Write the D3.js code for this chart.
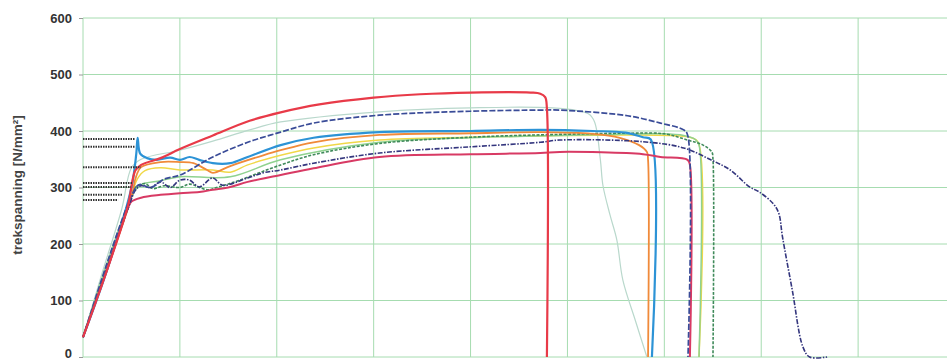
<!DOCTYPE html>
<html>
<head>
<meta charset="utf-8">
<script src="https://cdn.jsdelivr.net/npm/d3@7"></script>
<style>
  html, body { margin: 0; padding: 0; background: #fff; }
  svg { display: block; }
</style>
</head>
<body>
<div id="chart"></div>
<script>
// stress-strain curves, [strain, stress N/mm²]
const curveRed = [[0,35],[1.2,150],[2.3,265],[2.7,330],[3.0,340],[4.0,352],[5.0,368],[6.7,392],[8.6,418],[10.2,433],[12.2,447],[15.0,459],[17.4,465],[20.0,468],[23.1,468],[23.6,466],[23.85,460],[23.94,440],[23.94,0]];
const curvePale = [[0,35],[1.0,150],[2.0,262],[2.5,335],[3.0,350],[5.0,366],[6.7,382],[8.6,402],[10.2,416],[15.3,434],[20.0,441],[24.6,440],[26.1,430],[26.4,416],[26.7,349],[26.83,304],[27.2,251],[27.55,207],[27.86,136],[28.5,65],[29.1,0]];
const curveDarkBlue = [[0,35],[2.5,285],[2.9,305],[3.5,300],[4.2,315],[5.0,322],[6.7,354],[8.5,380],[10.2,398],[11.9,414],[15.3,428],[20.0,435],[23.6,437],[24.6,437],[28.1,427],[29.8,414],[31.0,402],[31.2,393],[31.22,0]];
const curveBlue = [[0,35],[1.3,160],[2.5,300],[2.75,360],[2.82,388],[2.95,360],[3.3,352],[3.8,349],[4.5,353],[5.0,349],[5.5,354],[6.0,349],[6.7,343],[7.6,343],[8.5,354],[10.2,375],[11.9,388],[15.3,398],[20.0,400],[23.6,402],[26.3,400],[28.0,397],[28.9,389],[29.3,385],[29.36,0]];
const curveOrange = [[0,35],[2.55,290],[2.7,315],[3.0,336],[4.0,345],[5.0,345],[5.7,343],[6.4,331],[6.7,326],[7.6,338],[9.3,357],[10.2,366],[11.9,380],[15.3,393],[20.0,396],[23.6,398],[26.3,395],[27.7,388],[28.7,375],[29.1,363],[29.16,349],[29.16,0]];
const curveYellow = [[0,35],[2.5,285],[2.8,315],[3.2,330],[4.0,335],[5.0,331],[6.7,331],[7.6,327],[8.5,340],[10.2,357],[11.9,370],[15.3,384],[20.0,389],[24.6,392],[28.0,393],[30.3,392],[31.4,388],[31.75,380],[31.79,0]];
const curveLightGreen = [[0,35],[2.6,290],[3.0,305],[4.0,312],[5.0,319],[7.6,319],[10.2,349],[15.3,380],[20.0,388],[24.6,392],[29.8,395],[31.0,392],[31.6,385],[31.79,375],[31.79,0]];
const curveDarkGreen = [[0,35],[2.5,280],[2.7,300],[3.2,307],[3.6,298],[4.2,303],[5.0,300],[5.5,306],[6.4,296],[7.0,301],[8.0,312],[10.2,340],[11.9,358],[15.3,378],[20.0,389],[24.6,394],[28.0,396],[30.0,395],[31.2,384],[32.0,375],[32.45,363],[32.51,350],[32.51,0]];
const curveNavy = [[0,35],[2.4,270],[2.7,295],[3.0,303],[3.5,300],[4.0,310],[4.5,300],[5.0,313],[5.5,313],[6.0,301],[6.7,317],[7.2,304],[8.5,317],[9.3,326],[10.2,331],[11.9,343],[15.3,361],[20.0,372],[23.6,380],[24.6,384],[28.9,381],[31.0,370],[32.4,349],[33.4,331],[34.4,301],[34.9,292],[35.6,272],[35.9,255],[36.1,212],[36.6,119],[37.15,18],[37.5,0],[38.4,0]];
const curveCrimson = [[0,35],[1.2,150],[2.3,262],[2.5,275],[3.0,282],[4.0,287],[5.0,290],[6.0,292],[6.7,296],[7.6,301],[8.5,310],[10.2,322],[11.9,334],[15.3,354],[20.0,359],[23.6,361],[24.6,363],[28.9,359],[29.8,354],[31.2,349],[31.32,340],[31.32,0]];

// yield markers (dotted)
const yieldValues = [386, 372, 336, 308, 301, 287, 278];
const yieldEnds = [2.68, 2.68, 2.99, 2.58, 2.48, 2.06, 1.81];

const yTicks = [0, 100, 200, 300, 400, 500, 600];
const xGrid = [0, 5, 10, 15, 20, 25, 30, 35, 40, 45];

const series = [
  { key: 'pale', points: curvePale },
  { key: 'yellow', points: curveYellow },
  { key: 'lightGreen', points: curveLightGreen },
  { key: 'darkGreen', points: curveDarkGreen },
  { key: 'orange', points: curveOrange },
  { key: 'blue', points: curveBlue },
  { key: 'crimson', points: curveCrimson },
  { key: 'navy', points: curveNavy },
  { key: 'darkBlue', points: curveDarkBlue },
  { key: 'red', points: curveRed }
];

// line styles
const styles = {
  pale:       { color: '#b9d8cc', width: 1.2, dash: null },
  lightGreen: { color: '#8fd28f', width: 1.5, dash: null },
  yellow:     { color: '#f0d848', width: 1.5, dash: null },
  darkGreen:  { color: '#3f8a5a', width: 1.6, dash: '3,1.5' },
  orange:     { color: '#f08a3a', width: 1.8, dash: null },
  blue:       { color: '#2c93d6', width: 2.2, dash: null },
  crimson:    { color: '#d83a64', width: 2.0, dash: null },
  navy:       { color: '#34367e', width: 1.6, dash: '5,1.5,1.5,1.5' },
  darkBlue:   { color: '#3a4c98', width: 1.7, dash: '6,2' },
  red:        { color: '#e83a48', width: 2.2, dash: null }
};

const width = 947, height = 359;

const svg = d3.select('#chart')
  .append('svg')
  .attr('width', width)
  .attr('height', height);

const x = d3.scaleLinear().domain([0, 45]).range([83, 955]);
const y = d3.scaleLinear().domain([0, 600]).range([357, 18]);

// grid
const grid = svg.append('g').attr('class', 'grid');
grid.selectAll('.hgrid')
  .data(yTicks)
  .enter()
  .append('line')
  .attr('x1', x(0)).attr('x2', width)
  .attr('y1', d => y(d)).attr('y2', d => y(d))
  .style('stroke', '#a6dcb0')
  .style('stroke-width', 1);

grid.selectAll('.vgrid')
  .data(xGrid)
  .enter()
  .append('line')
  .attr('x1', d => x(d)).attr('x2', d => x(d))
  .attr('y1', y(600)).attr('y2', y(0))
  .style('stroke', '#a6dcb0')
  .style('stroke-width', 1);

// y axis
const yAxis = svg.append('g')
  .attr('transform', `translate(${x(0)},0)`)
  .call(d3.axisLeft(y).tickValues(yTicks).tickSize(4).tickPadding(7));
yAxis.select('.domain').remove();
yAxis.selectAll('line').style('stroke', '#999');
yAxis.selectAll('text')
  .style('font-family', 'Liberation Sans, Arial, sans-serif')
  .style('font-size', '13px')
  .style('font-weight', 'bold')
  .style('fill', '#333');
// keep the bottom label inside the picture
yAxis.selectAll('text')
  .filter(d => d === 0)
  .attr('dy', '0em');

// y axis title
svg.append('text')
  .attr('transform', 'rotate(-90)')
  .attr('x', -185)
  .attr('y', 22)
  .attr('text-anchor', 'middle')
  .style('font-family', 'Liberation Sans, Arial, sans-serif')
  .style('font-size', '13.5px')
  .style('font-weight', 'bold')
  .style('fill', '#444')
  .text('trekspanning [N/mm²]');

// curves
const line = d3.line()
  .x(d => x(d[0]))
  .y(d => y(d[1]))
  .curve(d3.curveCatmullRom.alpha(0.5));

svg.append('g')
  .selectAll('path')
  .data(series)
  .enter()
  .append('path')
  .attr('d', d => line(d.points))
  .attr('fill', 'none')
  .attr('stroke', d => styles[d.key].color)
  .attr('stroke-width', d => styles[d.key].width)
  .attr('stroke-dasharray', d => styles[d.key].dash)
  .attr('stroke-linejoin', 'round');

// yield markers
svg.append('g')
  .selectAll('line')
  .data(yieldValues)
  .enter()
  .append('line')
  .attr('x1', x(0))
  .attr('x2', (d, i) => x(yieldEnds[i]))
  .attr('y1', d => y(d))
  .attr('y2', d => y(d))
  .style('stroke', '#333')
  .style('stroke-width', 2)
  .style('stroke-dasharray', '1.5,1');
</script>
</body>
</html>
